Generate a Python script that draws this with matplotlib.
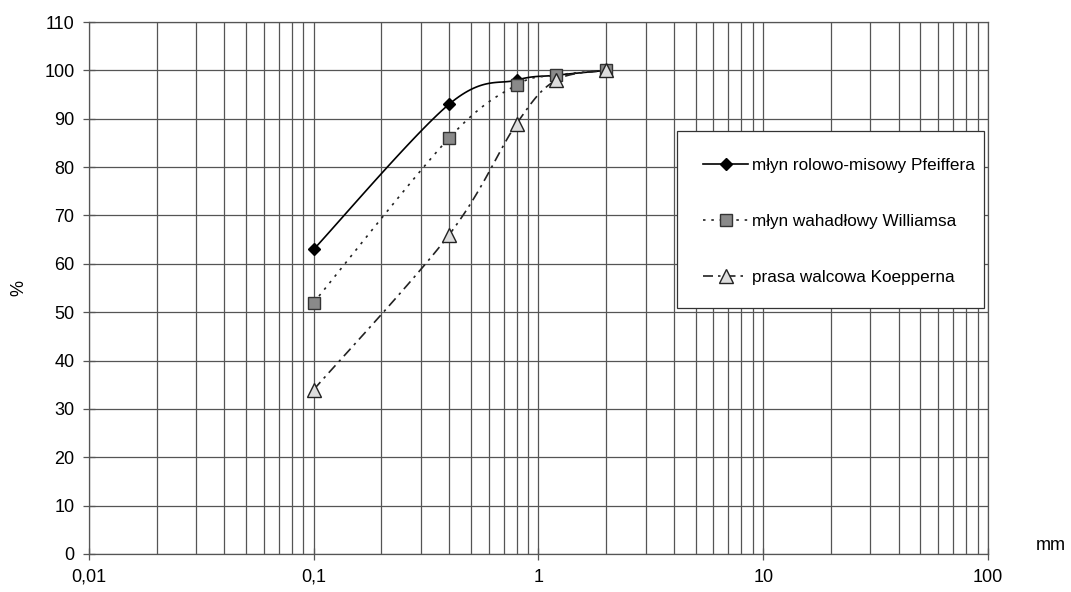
import numpy as np
import matplotlib
matplotlib.use("Agg")
import matplotlib.pyplot as plt
from matplotlib.patches import Rectangle
from matplotlib.ticker import FixedLocator, FixedFormatter, LogLocator, NullFormatter

plt.rcParams['font.family'] = ['Liberation Sans', 'DejaVu Sans']

# sieve size, mm
x_pfeiffer = [0.1, 0.4, 0.8, 1.2, 2.0]
y_pfeiffer = [63, 93, 98, 99, 100]
x_williams = [0.1, 0.4, 0.8, 1.2, 2.0]
y_williams = [52, 86, 97, 99, 100]
x_koeppern = [0.1, 0.4, 0.8, 1.2, 2.0]
y_koeppern = [34, 66, 89, 98, 100]

labels = ['młyn rolowo-misowy Pfeiffera', 'młyn wahadłowy Williamsa', 'prasa walcowa Koepperna']
x_ticks = [0.01, 0.1, 1, 10, 100]
x_ticklabels = ['0,01', '0,1', '1', '10', '100']
y_ticks = list(range(0, 111, 10))


def smooth(xs, ys, xlim=(0.01, 100), ylim=(0, 110), n=30):
    """Excel-like smoothed line (Bezier through points, in screen-like space)"""
    u = (np.log10(xs) - np.log10(xlim[0])) / (np.log10(xlim[1]) - np.log10(xlim[0]))
    v = (np.asarray(ys, float) - ylim[0]) / (ylim[1] - ylim[0]) * 0.55
    p = np.column_stack([u, v])
    out = []
    for i in range(len(p) - 1):
        p0 = p[i - 1] if i > 0 else p[i]
        p1, p2 = p[i], p[i + 1]
        p3 = p[i + 2] if i + 2 < len(p) else p[i + 1]
        c1 = p1 + (p2 - p0) / 6
        c2 = p2 - (p3 - p1) / 6
        t = np.linspace(0, 1, n)[:, None]
        seg = (1 - t) ** 3 * p1 + 3 * (1 - t) ** 2 * t * c1 + 3 * (1 - t) * t ** 2 * c2 + t ** 3 * p2
        out.append(seg if i == 0 else seg[1:])
    out = np.vstack(out)
    sx = 10 ** (out[:, 0] * (np.log10(xlim[1]) - np.log10(xlim[0])) + np.log10(xlim[0]))
    sy = out[:, 1] / 0.55 * (ylim[1] - ylim[0]) + ylim[0]
    return sx, sy


fig = plt.figure(figsize=(10.71, 5.92), dpi=100)
ax = fig.add_axes([0.0831, 0.0642, 0.8394, 0.8986])

series = [
    (x_pfeiffer, y_pfeiffer, dict(color='black', lw=1.2, ls='-'),
     dict(marker='D', ms=6.5, mfc='black', mec='black')),
    (x_williams, y_williams, dict(color='#222222', lw=1.2, ls=(0, (1.5, 3.5))),
     dict(marker='s', ms=8.5, mfc='#8a8a8a', mec='#333333', mew=1.0)),
    (x_koeppern, y_koeppern, dict(color='#222222', lw=1.2, ls=(0, (6, 3, 1.5, 3))),
     dict(marker='^', ms=9.5, mfc='#dddddd', mec='#222222', mew=1.0)),
]

handles = []
for xs, ys, lstyle, mstyle in series:
    sx, sy = smooth(xs, ys)
    ax.plot(sx, sy, zorder=3, **lstyle)
    ax.plot(xs, ys, ls='none', zorder=4, **mstyle)
    h, = ax.plot([], [], **lstyle, **mstyle)
    handles.append(h)

ax.set_xscale('log')
ax.set_xlim(0.01, 100)
ax.set_ylim(0, 110)
ax.xaxis.set_major_locator(FixedLocator(x_ticks))
ax.xaxis.set_major_formatter(FixedFormatter(x_ticklabels))
ax.xaxis.set_minor_locator(LogLocator(base=10, subs=np.arange(2, 10)))
ax.xaxis.set_minor_formatter(NullFormatter())
ax.set_yticks(y_ticks)

ax.grid(True, which='both', axis='x', color='#555555', lw=0.9)
ax.grid(True, which='major', axis='y', color='#555555', lw=0.9)
ax.set_axisbelow(True)
ax.tick_params(axis='both', which='major', direction='inout', length=9, width=0.9,
               color='#555555', labelsize=13, pad=6)
ax.tick_params(axis='x', which='minor', length=0)
for s in ax.spines.values():
    s.set_color('#555555')
    s.set_linewidth(0.9)

ax.set_ylabel('%', fontsize=13, labelpad=12)
ax.text(1.053, 0.0, 'mm', transform=ax.transAxes, fontsize=13, ha='left', va='bottom')

# legend box drawn separately so its size matches the original
ax.add_patch(Rectangle((0.654, 0.4624), 0.3415, 0.3327, transform=ax.transAxes,
                       facecolor='white', edgecolor='#333333', lw=0.9, zorder=5))
leg = ax.legend(handles, labels, loc='upper left', bbox_to_anchor=(0.654, 0.794),
                frameon=False, fontsize=12.3, labelspacing=2.4,
                borderpad=1.55, handlelength=2.6, handletextpad=0.25, borderaxespad=0)
leg.set_zorder(6)

fig.savefig('out.png', dpi=100, facecolor='white')
